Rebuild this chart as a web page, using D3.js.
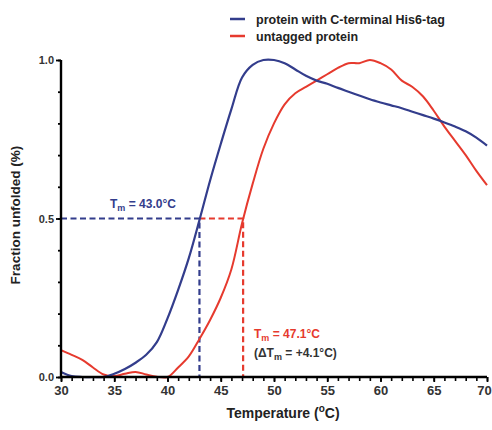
<!DOCTYPE html>
<html>
<head>
<meta charset="utf-8">
<script src="https://cdn.jsdelivr.net/npm/d3@7"></script>
<style>
  body { margin: 0; background: #fff; }
  text { font-family: "Liberation Sans", Arial, sans-serif; font-weight: bold; }
</style>
</head>
<body>
<div class="chart"></div>
<script>
// temperatures, 1 degree steps
var temps = d3.range(30, 71);

// protein with C-terminal His6-tag
var tagged = [0.016, 0.003, 0, 0, 0, 0.01, 0.025, 0.045, 0.07, 0.11,
    0.185, 0.275, 0.375, 0.495, 0.62, 0.735, 0.845, 0.945, 0.985, 1.0,
    1.0, 0.99, 0.97, 0.95, 0.935, 0.925, 0.912, 0.9, 0.888, 0.876,
    0.866, 0.857, 0.848, 0.837, 0.826, 0.815, 0.803, 0.79, 0.775, 0.755, 0.73];

// untagged protein
var untagged = [0.085, 0.07, 0.054, 0.03, 0.008, 0.003, 0.01, 0.016, 0.008, 0.001,
    0, 0.03, 0.065, 0.12, 0.18, 0.25, 0.34, 0.485, 0.61, 0.72,
    0.8, 0.86, 0.895, 0.915, 0.935, 0.955, 0.975, 0.99, 0.99, 1.0,
    0.99, 0.97, 0.935, 0.915, 0.885, 0.84, 0.79, 0.745, 0.7, 0.65, 0.605];

var tmTagged = 43.0, tmUntagged = 47.1;

var xMajor = [30, 35, 40, 45, 50, 55, 60, 65, 70];
var yMajor = [0, 0.5, 1.0];

var blue = "#333d8c", red = "#e63a2e";

var width = 492, height = 430;

var svg = d3.select(".chart")
    .append("svg")
    .attr("width", width)
    .attr("height", height);

var x = d3.scaleLinear().domain([30, 70]).range([61, 487]);
var y = d3.scaleLinear().domain([0, 1]).range([377, 60]);

var line = d3.line()
    .x(function (d) { return x(d[0]); })
    .y(function (d) { return y(d[1]); })
    .curve(d3.curveCatmullRom);

// dashed Tm guides
var g = svg.append("g").attr("fill", "none").attr("stroke-width", 2.2).attr("stroke-dasharray", "6,3.5");
g.append("path").attr("stroke", blue)
    .attr("d", "M" + x(30) + "," + y(0.5) + "H" + x(tmTagged) + "V" + y(0));
g.append("path").attr("stroke", red)
    .attr("d", "M" + x(tmTagged) + "," + y(0.5) + "H" + x(tmUntagged) + "V" + y(0));

// curves
svg.append("path")
    .datum(temps.map(function (t, i) { return [t, untagged[i]]; }))
    .attr("fill", "none").attr("stroke", red).attr("stroke-width", 2)
    .attr("d", line);
svg.append("path")
    .datum(temps.map(function (t, i) { return [t, tagged[i]]; }))
    .attr("fill", "none").attr("stroke", blue).attr("stroke-width", 2.2)
    .attr("d", line);

// x axis
var xAxis = svg.append("g")
    .attr("transform", "translate(0," + y(0) + ")");
xAxis.append("g")
    .call(d3.axisBottom(x).tickValues(temps).tickSize(4).tickFormat(""))
    .call(function (a) { a.select(".domain").remove(); a.selectAll("line").attr("stroke-width", 1.6); });
xAxis.append("g")
    .call(d3.axisBottom(x).tickValues(xMajor).tickSize(5).tickPadding(4).tickFormat(d3.format("d")))
    .call(function (a) {
        a.select(".domain").attr("stroke-width", 2.4).attr("d", "M" + x(30) + ",0H" + x(70));
        a.selectAll("line").attr("stroke-width", 1.8);
        a.selectAll("text").attr("font-size", 13).attr("fill", "#333")
            .attr("dx", function (d) { return d == 70 ? -3 : 0; });
    });

// y axis
var yAxis = svg.append("g")
    .attr("transform", "translate(" + x(30) + ",0)");
yAxis.append("g")
    .call(d3.axisLeft(y).tickValues(d3.range(0, 1.01, 0.1)).tickSize(3).tickFormat(""))
    .call(function (a) { a.select(".domain").remove(); a.selectAll("line").attr("stroke-width", 1.8); });
yAxis.append("g")
    .call(d3.axisLeft(y).tickValues(yMajor).tickSize(5).tickPadding(2).tickFormat(d3.format(".1f")))
    .call(function (a) {
        a.select(".domain").attr("stroke-width", 2.4).attr("d", "M0," + y(1) + "V" + (y(0) + 1));
        a.selectAll("line").attr("stroke-width", 1.8);
        a.selectAll("text").attr("font-size", 11).attr("fill", "#333");
    });

// axis titles
var xt = svg.append("text")
    .attr("x", 283).attr("y", 418)
    .attr("text-anchor", "middle").attr("font-size", 14).attr("fill", "#222");
xt.append("tspan").text("Temperature  (");
xt.append("tspan").attr("font-size", 10).attr("dy", -6).text("o");
xt.append("tspan").attr("dy", 6).text("C)");

svg.append("text")
    .attr("transform", "translate(20,215) rotate(-90)")
    .attr("text-anchor", "middle").attr("font-size", 13.5).attr("fill", "#222")
    .text("Fraction unfolded  (%)");

// Tm labels
function tmLabel(px, py, color, value, prefix) {
    var t = svg.append("text").attr("x", px).attr("y", py)
        .attr("font-size", 12).attr("fill", color);
    t.append("tspan").text(prefix + "T");
    t.append("tspan").attr("font-size", 9).attr("dy", 3).text("m");
    t.append("tspan").attr("dy", -3).text(value);
    return t;
}
tmLabel(110, 208, blue, " = " + tmTagged.toFixed(1) + "°C", "");
tmLabel(254, 338, red, " = " + tmUntagged.toFixed(1) + "°C", "");
tmLabel(254, 357, "#333", " = +" + (tmUntagged - tmTagged).toFixed(1) + "°C)", "(\u0394");

// legend
var legend = [["protein with C-terminal His6-tag", blue], ["untagged protein", red]];
legend.forEach(function (d, i) {
    var ly = 19 + i * 17;
    svg.append("line").attr("x1", 230).attr("x2", 245).attr("y1", ly).attr("y2", ly)
        .attr("stroke", d[1]).attr("stroke-width", 2.5);
    svg.append("text").attr("x", 256).attr("y", ly + 4.5)
        .attr("font-size", 12.5).attr("fill", "#222").text(d[0]);
});
</script>
</body>
</html>
